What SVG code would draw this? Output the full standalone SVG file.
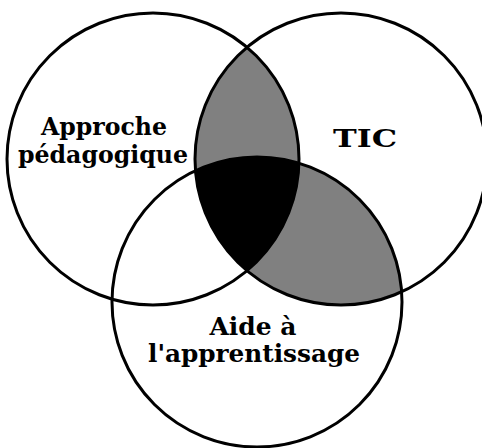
<svg xmlns="http://www.w3.org/2000/svg" width="482" height="448" viewBox="0 0 482 448">
  <style>
    .ring { fill: none; stroke: #000; stroke-width: 3; }
    .lbl { font-family: "DejaVu Serif", "Liberation Serif", serif; font-weight: bold; font-size: 24px; fill: #000; text-anchor: middle; }
    .gray { fill: #808080; }
    .dark { fill: #000; }
  </style>
  <defs>
    <clipPath id="cL"><circle cx="153" cy="159" r="146"/></clipPath>
    <clipPath id="cR"><circle cx="341" cy="159" r="146"/></clipPath>
  </defs>
  <rect width="482" height="448" fill="#fff"/>
  <g id="overlaps">
    <g clip-path="url(#cL)"><circle class="gray" cx="341" cy="159" r="146"/></g>
    <g clip-path="url(#cR)"><circle class="gray" cx="257" cy="302" r="145"/></g>
    <g clip-path="url(#cL)"><g clip-path="url(#cR)"><circle class="dark" cx="257" cy="302" r="145"/></g></g>
  </g>
  <g id="approche">
    <circle class="ring" cx="153" cy="159" r="146"/>
    <text class="lbl" x="104" y="135" textLength="126" lengthAdjust="spacingAndGlyphs">Approche</text>
    <text class="lbl" x="103" y="163" textLength="170" lengthAdjust="spacingAndGlyphs">pédagogique</text>
  </g>
  <g id="tic">
    <circle class="ring" cx="341" cy="159" r="146"/>
    <text class="lbl" x="365" y="147" font-size="27" textLength="64" lengthAdjust="spacingAndGlyphs">TIC</text>
  </g>
  <g id="aide">
    <circle class="ring" cx="257" cy="302" r="145"/>
    <text class="lbl" x="253" y="335" textLength="87" lengthAdjust="spacingAndGlyphs">Aide à</text>
    <text class="lbl" x="254" y="362" textLength="212" lengthAdjust="spacingAndGlyphs">l'apprentissage</text>
  </g>
</svg>
